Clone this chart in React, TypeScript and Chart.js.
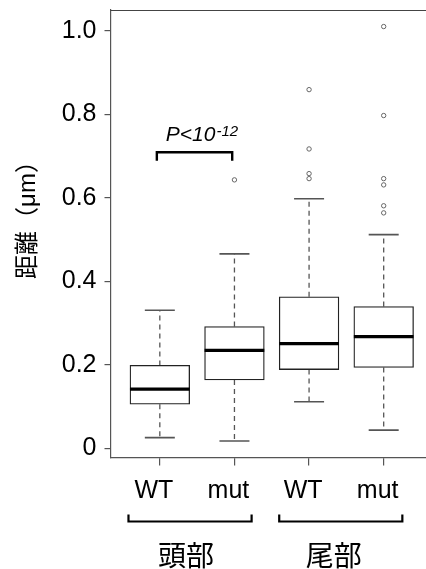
import React, { useEffect, useRef } from 'react';
import { Chart, registerables } from 'chart.js';

Chart.register(...registerables);

// ---- data ----
const xLabels = ['WT', 'mut', 'WT', 'mut'];
const xPositions = [0, 1, 2, 3];
const lowerWhisker = [0.026, 0.018, 0.112, 0.044];
const q1 = [0.106, 0.164, 0.189, 0.194];
const medians = [0.142, 0.235, 0.251, 0.268];
const q3 = [0.199, 0.292, 0.363, 0.34];
const upperWhisker = [0.331, 0.466, 0.598, 0.512];
const outliers: number[][] = [
  [],
  [0.643],
  [0.646, 0.658, 0.717, 0.859],
  [0.564, 0.581, 0.631, 0.646, 0.797, 1.01],
];
const yTickValues = [0, 0.2, 0.4, 0.6, 0.8, 1.0];
const yTickLabels = ['0', '0.2', '0.4', '0.6', '0.8', '1.0'];
const yTitle = '距離（μm）';
const groupLabels = ['頭部', '尾部'];
const groupSpanStart = [-0.42, 1.6];
const groupSpanEnd = [1.23, 3.25];
const groupLabelCenters = [0.35, 2.33];
const sigBracketX = [-0.04, 0.97];
const sigBracketY = [0.689, 0.709];
const sigText = 'P<10';
const sigExponent = '-12';
const sigTextAt = [0.08, 0.735];

const LATIN = '"Liberation Sans", Arial, sans-serif';
const CJK = '"Liberation Sans", "Noto Sans CJK JP", sans-serif';

const decorations = {
  id: 'decorations',
  afterDraw(chart: any) {
    const { ctx, chartArea, scales } = chart;
    const xs = scales.x;
    const ys = scales.y;
    ctx.save();
    // top frame line
    ctx.strokeStyle = '#444';
    ctx.lineWidth = 1.2;
    ctx.beginPath();
    ctx.moveTo(chartArea.left, chartArea.top + 0.5);
    ctx.lineTo(chartArea.right, chartArea.top + 0.5);
    ctx.stroke();

    // significance text
    ctx.fillStyle = '#000';
    ctx.textAlign = 'left';
    ctx.textBaseline = 'alphabetic';
    const tx = xs.getPixelForValue(sigTextAt[0]);
    const ty = ys.getPixelForValue(sigTextAt[1]);
    ctx.font = 'italic 21px ' + LATIN;
    ctx.fillText(sigText, tx, ty);
    const w = ctx.measureText(sigText).width;
    ctx.font = 'italic 15px ' + LATIN;
    ctx.fillText(sigExponent, tx + w + 1, ty - 5);

    // y title
    ctx.save();
    ctx.translate(28, 214);
    ctx.rotate(-Math.PI / 2);
    ctx.font = '24px ' + CJK;
    ctx.textAlign = 'center';
    ctx.textBaseline = 'middle';
    ctx.fillText(yTitle, 0, 0);
    ctx.restore();

    // group brackets below axis
    const base = chartArea.bottom;
    ctx.strokeStyle = '#000';
    ctx.lineWidth = 2.2;
    ctx.lineJoin = 'miter';
    groupLabels.forEach((lab, i) => {
      const a = xs.getPixelForValue(groupSpanStart[i]);
      const b = xs.getPixelForValue(groupSpanEnd[i]);
      ctx.beginPath();
      ctx.moveTo(a, base + 57);
      ctx.lineTo(a, base + 64);
      ctx.lineTo(b, base + 64);
      ctx.lineTo(b, base + 57);
      ctx.stroke();
      ctx.font = '28px "Noto Sans CJK JP", sans-serif';
      ctx.textAlign = 'center';
      ctx.textBaseline = 'alphabetic';
      ctx.fillText(lab, xs.getPixelForValue(groupLabelCenters[i]), base + 108);
    });
    ctx.restore();
  },
};

const noPad = (s: any) => {
  s.paddingTop = 0;
  s.paddingBottom = 0;
  s.paddingLeft = 0;
  s.paddingRight = 0;
};

export default function App() {
  const ref = useRef<HTMLCanvasElement>(null);
  useEffect(() => {
    if (!ref.current) return;
    const boxData = xPositions.map((x, i) => ({ x, y: [q1[i], q3[i]] }));
    const medianData = xPositions.map((x, i) => ({ x, y: medians[i] }));
    const whiskerData: any[] = [];
    xPositions.forEach((x, i) => {
      whiskerData.push({ x, y: q3[i] }, { x, y: upperWhisker[i] }, { x, y: null });
      whiskerData.push({ x, y: q1[i] }, { x, y: lowerWhisker[i] }, { x, y: null });
    });
    const capData: any[] = [];
    xPositions.forEach((x, i) => {
      capData.push({ x, y: lowerWhisker[i] }, { x, y: upperWhisker[i] });
    });
    const outlierData: any[] = [];
    xPositions.forEach((x, i) => outliers[i].forEach((v) => outlierData.push({ x, y: v })));
    const bracketData = [
      { x: sigBracketX[0], y: sigBracketY[0] },
      { x: sigBracketX[0], y: sigBracketY[1] },
      { x: sigBracketX[1], y: sigBracketY[1] },
      { x: sigBracketX[1], y: sigBracketY[0] },
    ];

    const chart = new Chart(ref.current, {
      type: 'bar',
      data: {
        datasets: [
          {
            type: 'bar',
            data: boxData as any,
            backgroundColor: '#fff',
            borderColor: '#222',
            borderWidth: 1.3,
            borderSkipped: false,
            barThickness: 59.7,
            grouped: false,
            order: 10,
          } as any,
          {
            type: 'line',
            data: whiskerData,
            borderColor: '#555',
            borderWidth: 1.3,
            borderDash: [5, 4],
            pointRadius: 0,
            spanGaps: false,
            order: 11,
          } as any,
          {
            type: 'scatter',
            data: capData,
            pointStyle: 'line',
            pointRadius: 15,
            pointBorderWidth: 1.6,
            pointBorderColor: '#555',
            borderColor: '#555',
            order: 5,
          } as any,
          {
            type: 'scatter',
            data: medianData,
            pointStyle: 'line',
            pointRadius: 29.85,
            pointBorderWidth: 3.2,
            pointBorderColor: '#000',
            borderColor: '#000',
            order: 1,
          } as any,
          {
            type: 'scatter',
            data: outlierData,
            pointStyle: 'circle',
            pointRadius: 2.2,
            pointBorderWidth: 1,
            pointBorderColor: '#666',
            pointBackgroundColor: 'rgba(0,0,0,0)',
            order: 2,
          } as any,
          {
            type: 'line',
            data: bracketData,
            borderColor: '#000',
            borderWidth: 2.4,
            pointRadius: 0,
            borderJoinStyle: 'miter',
            order: 3,
          } as any,
        ],
      },
      options: {
        animation: false,
        responsive: false,
        events: [],
        layout: { autoPadding: false, padding: { top: 10, left: 0, right: 0, bottom: 0 } },
        plugins: { legend: { display: false }, tooltip: { enabled: false } },
        scales: {
          x: {
            type: 'linear',
            min: -0.661,
            max: 3.567,
            offset: false,
            grid: { display: true, drawOnChartArea: false, drawTicks: true, tickLength: 8, color: '#555', lineWidth: 1.2, offset: false },
            border: { display: true, color: '#555', width: 1.2 },
            afterBuildTicks: (s: any) => {
              s.ticks = xPositions.map((v) => ({ value: v }));
            },
            afterFit: (s: any) => {
              s.height = 111.5;
              noPad(s);
            },
            ticks: {
              autoSkip: false,
              maxRotation: 0,
              padding: 11,
              labelOffset: -6,
              color: '#000',
              font: { size: 25, family: LATIN },
              callback: (_v: any, i: number) => xLabels[i],
            },
          },
          y: {
            type: 'linear',
            min: -0.0215,
            max: 1.0496,
            grid: { display: true, drawOnChartArea: false, drawTicks: true, tickLength: 6, color: '#555', lineWidth: 1.2 },
            border: { display: true, color: '#555', width: 1.2 },
            afterBuildTicks: (s: any) => {
              s.ticks = yTickValues.map((v) => ({ value: v }));
            },
            afterFit: (s: any) => {
              s.width = 110.5;
              noPad(s);
            },
            ticks: {
              padding: 8,
              color: '#000',
              font: { size: 25, family: LATIN },
              callback: (_v: any, i: number) => yTickLabels[i],
            },
          },
        },
      } as any,
      plugins: [decorations],
    });
    return () => chart.destroy();
  }, []);

  return (
    <div style={{ position: 'absolute', left: 0, top: 0, width: 426, height: 569, background: '#fff' }}>
      <canvas ref={ref} width={426} height={569} style={{ display: 'block' }} />
    </div>
  );
}
